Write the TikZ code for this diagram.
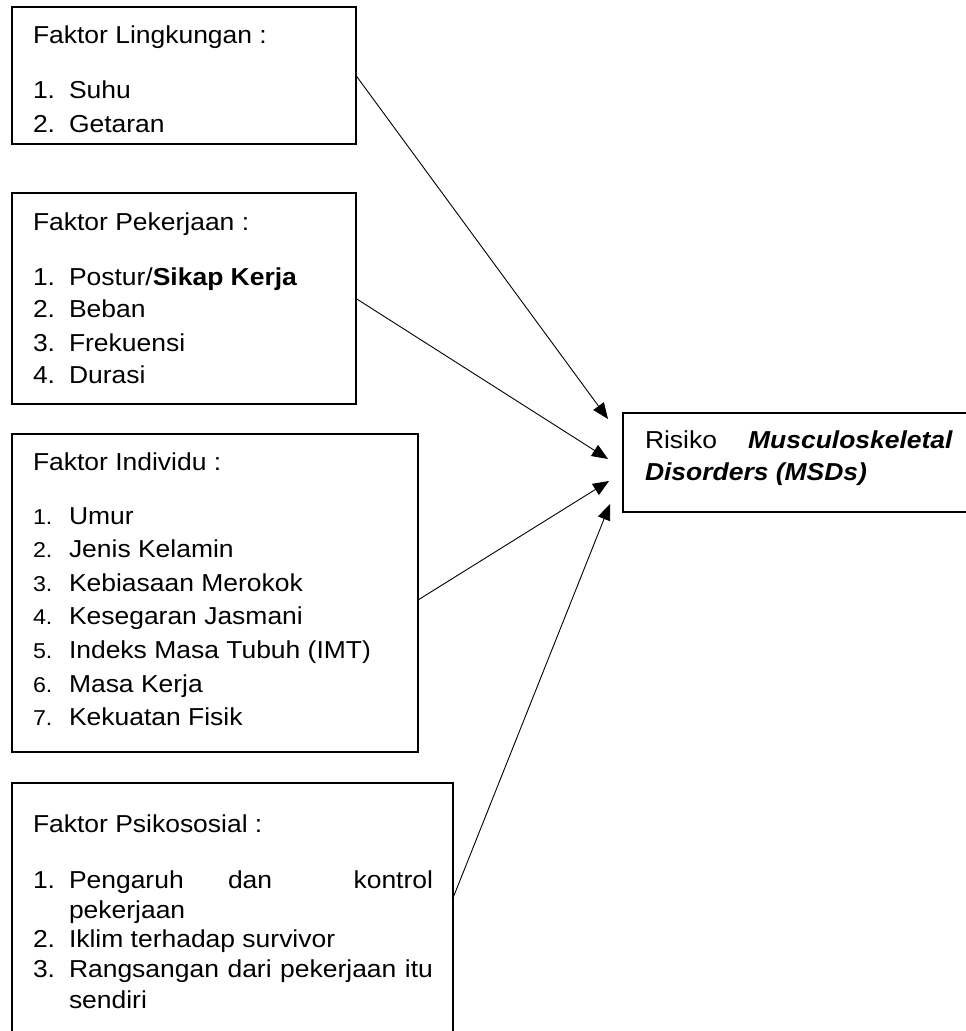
\documentclass[tikz,border=0pt]{standalone}
\usepackage{fontspec}
\setmainfont{Liberation Sans}[FakeStretch=1.08]
\usetikzlibrary{arrows.meta}
\newcommand\myfs{\fontsize{24.5}{30}\selectfont}
\newcommand\mysmallfs{\fontsize{21.5}{30}\selectfont}
\tikzset{
  box/.style={draw, line width=1.6pt, inner sep=0pt, outer sep=0pt},
  txt/.style={anchor=base west, inner sep=0pt, outer sep=0pt, font=\myfs},
  txte/.style={anchor=base east, inner sep=0pt, outer sep=0pt, font=\myfs},
  num/.style={txt},
  snum/.style={anchor=base west, inner sep=0pt, outer sep=0pt, font=\mysmallfs},
  conn/.style={-{Triangle[length=16pt,width=13pt]}, line width=0.9pt}
}
\begin{document}
\begin{tikzpicture}[x=1pt,y=-1pt]
\clip (0,0) rectangle (966,1031);
\useasboundingbox (0,0) rectangle (966,1031);
\fill[white] (0,0) rectangle (966,1031);

% boxes
\node[box, minimum width=344pt, minimum height=137pt] (b1) at (184,75.5) {};
\node[box, minimum width=344pt, minimum height=211pt] (b2) at (184,298.5) {};
\node[box, minimum width=406pt, minimum height=318pt] (b3) at (215,593) {};
\node[box, minimum width=441pt, minimum height=262pt] (b4) at (232.5,914) {};
\node[box, minimum width=357pt, minimum height=99pt] (b5) at (801.5,462.5) {};

% box 1 text
\node[txt] (h1) at (33,43) {Faktor Lingkungan :};
\node[num] (n11) at (33,98) {1.};
\node[txt] (i11) at (69,98) {Suhu};
\node[num] (n12) at (33,132) {2.};
\node[txt] (i12) at (69,132) {Getaran};

% box 2 text
\node[txt] (h2) at (33,230) {Faktor Pekerjaan :};
\node[num] (n21) at (33,285) {1.};
\node[txt] (i21) at (69,285) {Postur/\textbf{Sikap Kerja}};
\node[num] (n22) at (33,317) {2.};
\node[txt] (i22) at (69,317) {Beban};
\node[num] (n23) at (33,351) {3.};
\node[txt] (i23) at (69,351) {Frekuensi};
\node[num] (n24) at (33,383) {4.};
\node[txt] (i24) at (69,383) {Durasi};

% box 3 text
\node[txt] (h3) at (33,470) {Faktor Individu :};
\node[snum] (n31) at (33,524) {1.};
\node[txt] (i31) at (69,524) {Umur};
\node[snum] (n32) at (33,557) {2.};
\node[txt] (i32) at (69,557) {Jenis Kelamin};
\node[snum] (n33) at (33,591) {3.};
\node[txt] (i33) at (69,591) {Kebiasaan Merokok};
\node[snum] (n34) at (33,624) {4.};
\node[txt] (i34) at (69,624) {Kesegaran Jasmani};
\node[snum] (n35) at (33,658) {5.};
\node[txt] (i35) at (69,658) {Indeks Masa Tubuh (IMT)};
\node[snum] (n36) at (33,692) {6.};
\node[txt] (i36) at (69,692) {Masa Kerja};
\node[snum] (n37) at (33,725) {7.};
\node[txt] (i37) at (69,725) {Kekuatan Fisik};

% box 4 text
\node[txt] (h4) at (33,832) {Faktor Psikososial :};
\node[num] (n41) at (33,888) {1.};
\node[txt] (i41a) at (69,888) {Pengaruh};
\node[txt] (i41b) at (228,888) {dan};
\node[txte] (i41c) at (433,888) {kontrol};
\node[txt] (i41d) at (69,918) {pekerjaan};
\node[num] (n42) at (33,947) {2.};
\node[txt] (i42) at (69,947) {Iklim terhadap survivor};
\node[num] (n43) at (33,977) {3.};
\node[txt] (i43) at (69,977) {\makebox[364pt][s]{Rangsangan dari pekerjaan itu}};
\node[txt] (i43b) at (69,1008) {sendiri};

% box 5 text
\node[txt] (r1) at (645,448) {\makebox[308pt][s]{Risiko \textbf{\textit{Musculoskeletal}}}};
\node[txt] (r3) at (645,480) {\textbf{\textit{Disorders (MSDs)}}};

% connectors
\coordinate (s4) at ([yshift=16pt]b4.east);
\coordinate (t1) at ([xshift=-15pt,yshift=43.5pt]b5.west);
\coordinate (t2) at ([xshift=-15pt,yshift=3.5pt]b5.west);
\coordinate (t3) at ([xshift=-14pt,yshift=-18.5pt]b5.west);
\coordinate (t4) at ([xshift=-13pt,yshift=-41.5pt]b5.west);
\draw[conn] (b1.east) -- (t1);
\draw[conn] (b2.east) -- (t2);
\draw[conn] ([yshift=-7pt]b3.east) -- (t3);
\draw[conn] (s4) -- (t4);
\end{tikzpicture}
\end{document}
